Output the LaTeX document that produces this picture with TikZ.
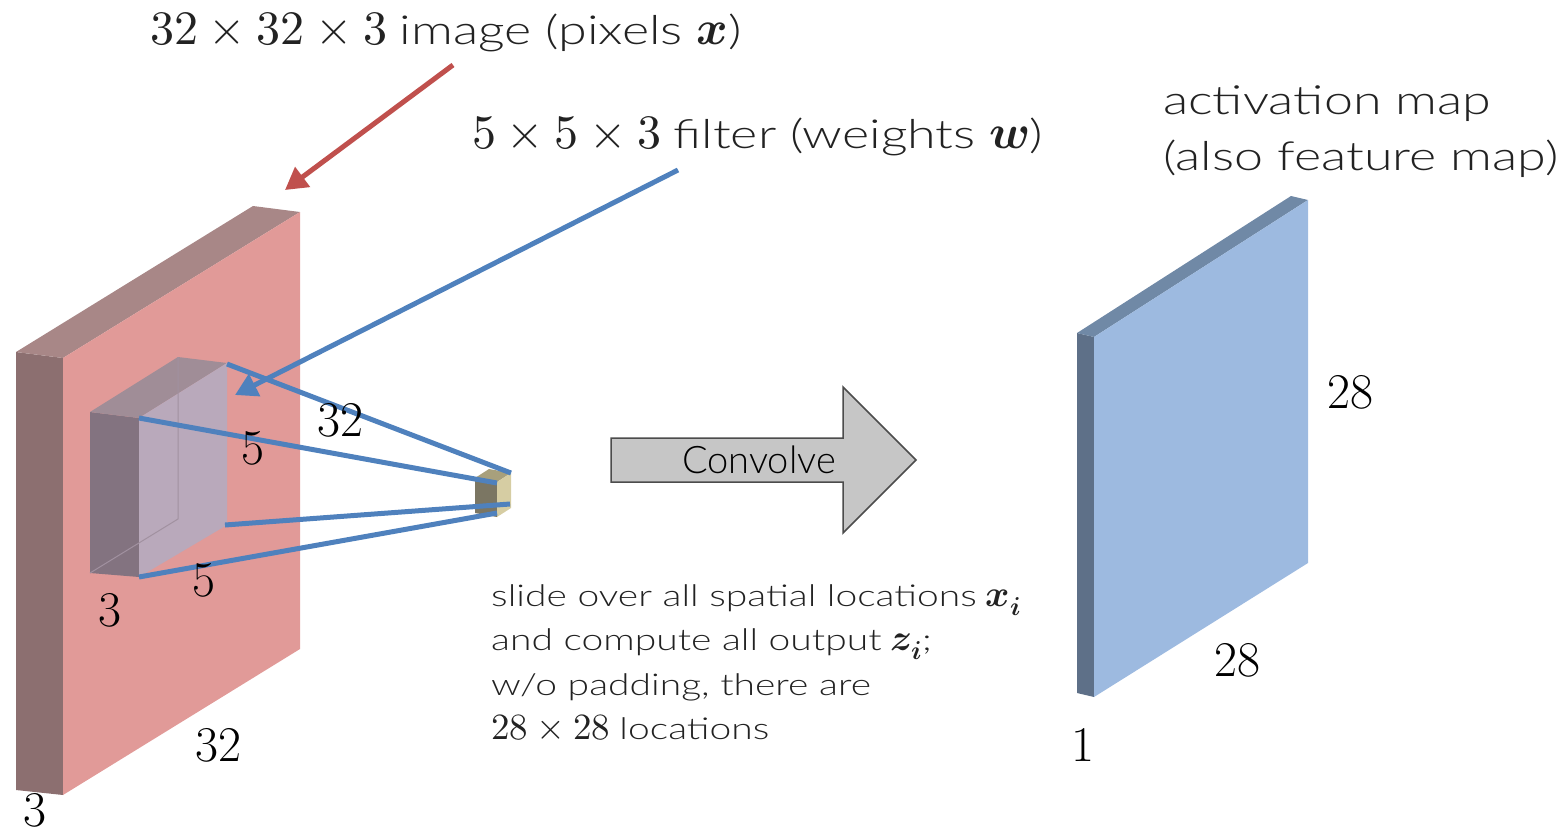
\documentclass[tikz,border=0pt]{standalone}
\usepackage{fontspec}
\usepackage{unicode-math}
\usetikzlibrary{arrows.meta}
\newfontfamily\lightfont{Lato Light}[FakeStretch=1.3]
\newfontfamily\lightplain{Lato Light}
\definecolor{redfront}{HTML}{E19A98}
\definecolor{redside}{HTML}{8C6F70}
\definecolor{redtop}{HTML}{A88787}
\definecolor{filtfront}{HTML}{B9A9BB}
\definecolor{filtside}{HTML}{837380}
\definecolor{filttop}{HTML}{A08D97}
\definecolor{cubefront}{HTML}{D6CDA3}
\definecolor{cubeside}{HTML}{7B7663}
\definecolor{cubetop}{HTML}{A8A07C}
\definecolor{bluefront}{HTML}{9DBAE0}
\definecolor{blueside}{HTML}{5E7088}
\definecolor{bluetop}{HTML}{7089A6}
\definecolor{lineblue}{HTML}{4F81BD}
\definecolor{arrowred}{HTML}{C0504D}
\definecolor{txt}{HTML}{222222}
\newcommand{\mybigmath}[1]{{\fontsize{48}{52}\selectfont$#1$}}
\newcommand{\mysmallmath}[1]{{\fontsize{37}{40}\selectfont$#1$}}
\begin{document}
\begin{tikzpicture}[x=1pt,y=-1pt,
  every node/.style={inner sep=0pt, text=txt},
  dimlabel/.style={font=\fontsize{50}{54}\selectfont, text=black},
  bigtext/.style={font=\fontsize{40}{48}\selectfont, anchor=base west},
  smalltext/.style={font=\fontsize{30}{36}\selectfont, anchor=base west},
  ray/.style={lineblue, line width=5pt},
  pointer/.style={line width=5pt, -{Triangle[length=22pt,width=24pt]}}]
\useasboundingbox (0,0) rectangle (1564,836);

% input volume 32x32x3
\fill[redside] (16,352) -- (63,358) -- (63,795) -- (16,790) -- cycle;
\fill[redtop] (16,352) -- (253,206) -- (300,212) -- (63,358) -- cycle;
\fill[redfront] (63,358) -- (300,212) -- (300,649) -- (63,795) -- cycle;

% filter 5x5x3
\fill[filtside] (90,412) -- (139,418) -- (139,577) -- (90,573) -- cycle;
\fill[filttop] (90,412) -- (178,357) -- (227,363) -- (139,418) -- cycle;
\fill[filtfront] (139,418) -- (227,363) -- (227,525) -- (139,577) -- cycle;
\draw[filtside!45!filtfront, line width=1pt] (178,357) -- (178,519) -- (90,573);

% output neuron cube
\fill[cubeside] (475,478) -- (497,482) -- (497,517) -- (475,513) -- cycle;
\fill[cubetop] (475,478) -- (489,469) -- (511,473) -- (497,482) -- cycle;
\fill[cubefront] (497,482) -- (511,473) -- (511,508) -- (497,517) -- cycle;

% connector coordinates
\coordinate (f1) at (227,364);
\coordinate (f2) at (139,418);
\coordinate (f3) at (225,525);
\coordinate (f4) at (139,577);
\coordinate (c1) at (511,473);
\coordinate (c2) at (497,483);
\coordinate (c3) at (510,504);
\coordinate (c4) at (497,513);
\draw[ray] (f1) -- (c1);
\draw[ray] (f2) -- (c2);
\draw[ray] (f3) -- (c3);
\draw[ray] (f4) -- (c4);

% activation map
\fill[blueside] (1077,333) -- (1094,337) -- (1094,697) -- (1077,693) -- cycle;
\fill[bluetop] (1077,333) -- (1291,196) -- (1308,200) -- (1094,337) -- cycle;
\fill[bluefront] (1094,337) -- (1308,200) -- (1308,563) -- (1094,697) -- cycle;

% convolve arrow
\draw[fill=gray!45, draw=black!70, line width=1.5pt]
  (611,438) -- (843,438) -- (843,387) -- (916,460) -- (843,533) -- (843,482) -- (611,482) -- cycle;
\node[font=\lightplain\fontsize{38}{44}\selectfont, text=black] (conv) at (759,460) {Convolve};

% titles
\node[bigtext] (imgtitle) at (150,44) {\mybigmath{32\times32\times3} {\lightfont image (pixels }\mybigmath{\symbfit{x}}{\lightfont )}};
\node[bigtext] (filttitle) at (472,148) {\mybigmath{5\times5\times3} {\lightfont filter (weights }\mybigmath{\symbfit{w}}{\lightfont )}};
\node[bigtext] (act1) at (1163,114) {\lightfont activation map};
\node[bigtext] (act2) at (1163,170) {\lightfont (also feature map)};

% pointers
\coordinate (redstart) at (453,65);
\coordinate (redend) at (285,190);
\coordinate (bluestart) at (678,170);
\coordinate (blueend) at (235,395);
\draw[pointer, arrowred] (redstart) -- (redend);
\draw[pointer, lineblue] (bluestart) -- (blueend);

% bottom text
\node[smalltext] (b1) at (491,606) {{\lightfont slide over all spatial locations} \mysmallmath{\symbfit{x}_{\symbfit{i}}}};
\node[smalltext] (b2) at (491,650) {{\lightfont and compute all output} \mysmallmath{\symbfit{z}_{\symbfit{i}}}{\lightfont ;}};
\node[smalltext] (b3) at (491,695) {\lightfont w/o padding, there are};
\node[smalltext] (b4) at (491,739) {\mysmallmath{28\times28} {\lightfont locations}};

% dimension labels
\node[dimlabel] (l5a) at (253,448) {5};
\node[dimlabel] (l32a) at (340,420) {32};
\node[dimlabel] (l5b) at (204,580) {5};
\node[dimlabel] (l3a) at (110,610) {3};
\node[dimlabel] (l32b) at (218,745) {32};
\node[dimlabel] (l3b) at (35,810) {3};
\node[dimlabel] (l28a) at (1350,392) {28};
\node[dimlabel] (l28b) at (1237,660) {28};
\node[dimlabel] (l1) at (1083,745) {1};
\end{tikzpicture}
\end{document}
